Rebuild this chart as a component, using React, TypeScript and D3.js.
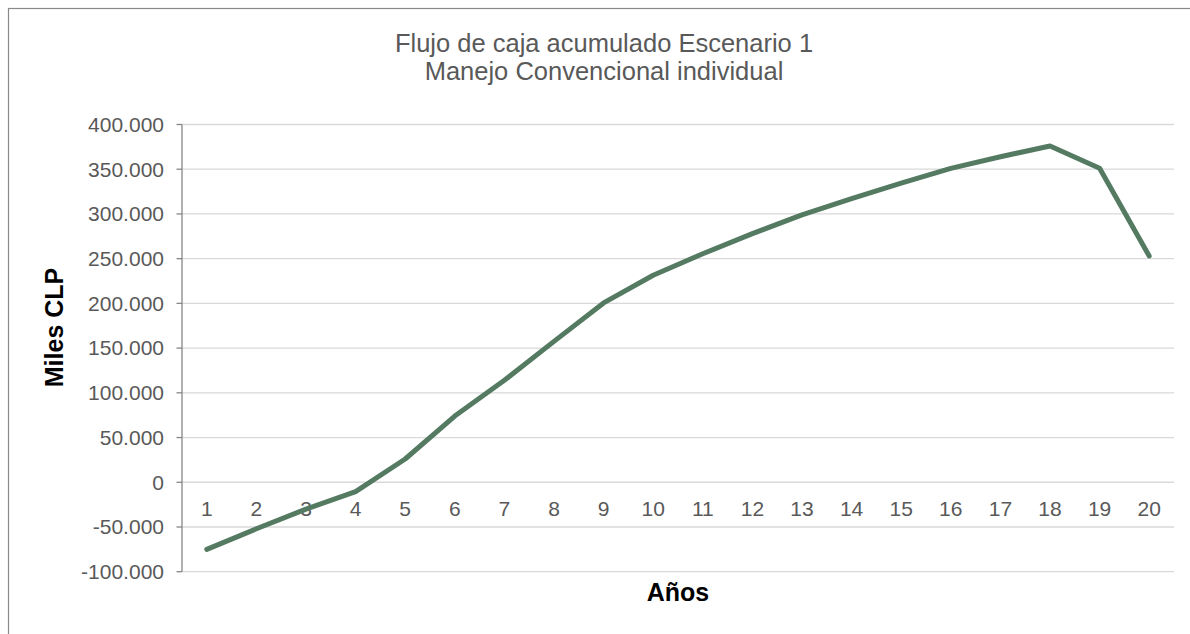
import React from "react";
import * as d3 from "d3";

const years = ["1","2","3","4","5","6","7","8","9","10","11","12","13","14","15","16","17","18","19","20"];
const flujo = [-75000, -52000, -30000, -10500, 26000, 74000, 114000, 157500, 200500, 231500, 255500, 278000, 299000, 317000, 334500, 351000, 364000, 376000, 351000, 253000];
const yTicks = [-100000, -50000, 0, 50000, 100000, 150000, 200000, 250000, 300000, 350000, 400000];
const titleLines = ["Flujo de caja acumulado Escenario 1", "Manejo Convencional individual"];

const fmt = (v: number) => {
  const s = d3.format(",")(Math.abs(v)).replace(/,/g, ".");
  return (v < 0 ? "-" : "") + s;
};

export default function App() {
  const left = 182, right = 1174, top = 124.5, bottom = 571.7;
  const x = d3.scaleBand<string>().domain(years).range([left, right]);
  const y = d3.scaleLinear().domain([-100000, 400000]).range([bottom, top]);
  const line = d3.line<number>()
    .x((_, i) => (x(years[i]) as number) + x.bandwidth() / 2)
    .y((d) => y(d));
  const font = "'Liberation Sans', Arial, sans-serif";
  return (
    <svg width={1190} height={634} style={{ position: "absolute", left: 0, top: 0 }} fontFamily={font}>
      <rect x={0} y={0} width={1190} height={634} fill="#fff" />
      <rect x={8.5} y={8.5} width={1300} height={800} fill="none" stroke="#898989" strokeWidth={1.2} />
      {titleLines.map((t, i) => (
        <text key={i} x={604} y={52 + i * 28} textAnchor="middle" fontSize={25.5} fill="#595959">{t}</text>
      ))}
      {yTicks.map((t) => (
        <g key={t}>
          <line x1={left} x2={right} y1={y(t)} y2={y(t)} stroke="#d9d9d9" strokeWidth={1.3} />
          <line x1={176.5} x2={left} y1={y(t)} y2={y(t)} stroke="#868686" strokeWidth={1.3} />
          <text x={164} y={y(t)} dy="0.35em" textAnchor="end" fontSize={21} fill="#595959">{fmt(t)}</text>
        </g>
      ))}
      <line x1={left} x2={left} y1={top} y2={bottom} stroke="#868686" strokeWidth={1.3} />
      {years.map((c) => (
        <text key={c} x={(x(c) as number) + x.bandwidth() / 2} y={515.5} textAnchor="middle" fontSize={21} fill="#595959">{c}</text>
      ))}
      <path d={line(flujo) as string} fill="none" stroke="#557a62" strokeWidth={5} strokeLinejoin="round" strokeLinecap="round" />
      <text transform="translate(63,327.5) rotate(-90)" textAnchor="middle" fontSize={25} fontWeight="bold" fill="#000">Miles CLP</text>
      <text x={678} y={600.5} textAnchor="middle" fontSize={25} fontWeight="bold" fill="#000">Años</text>
    </svg>
  );
}
